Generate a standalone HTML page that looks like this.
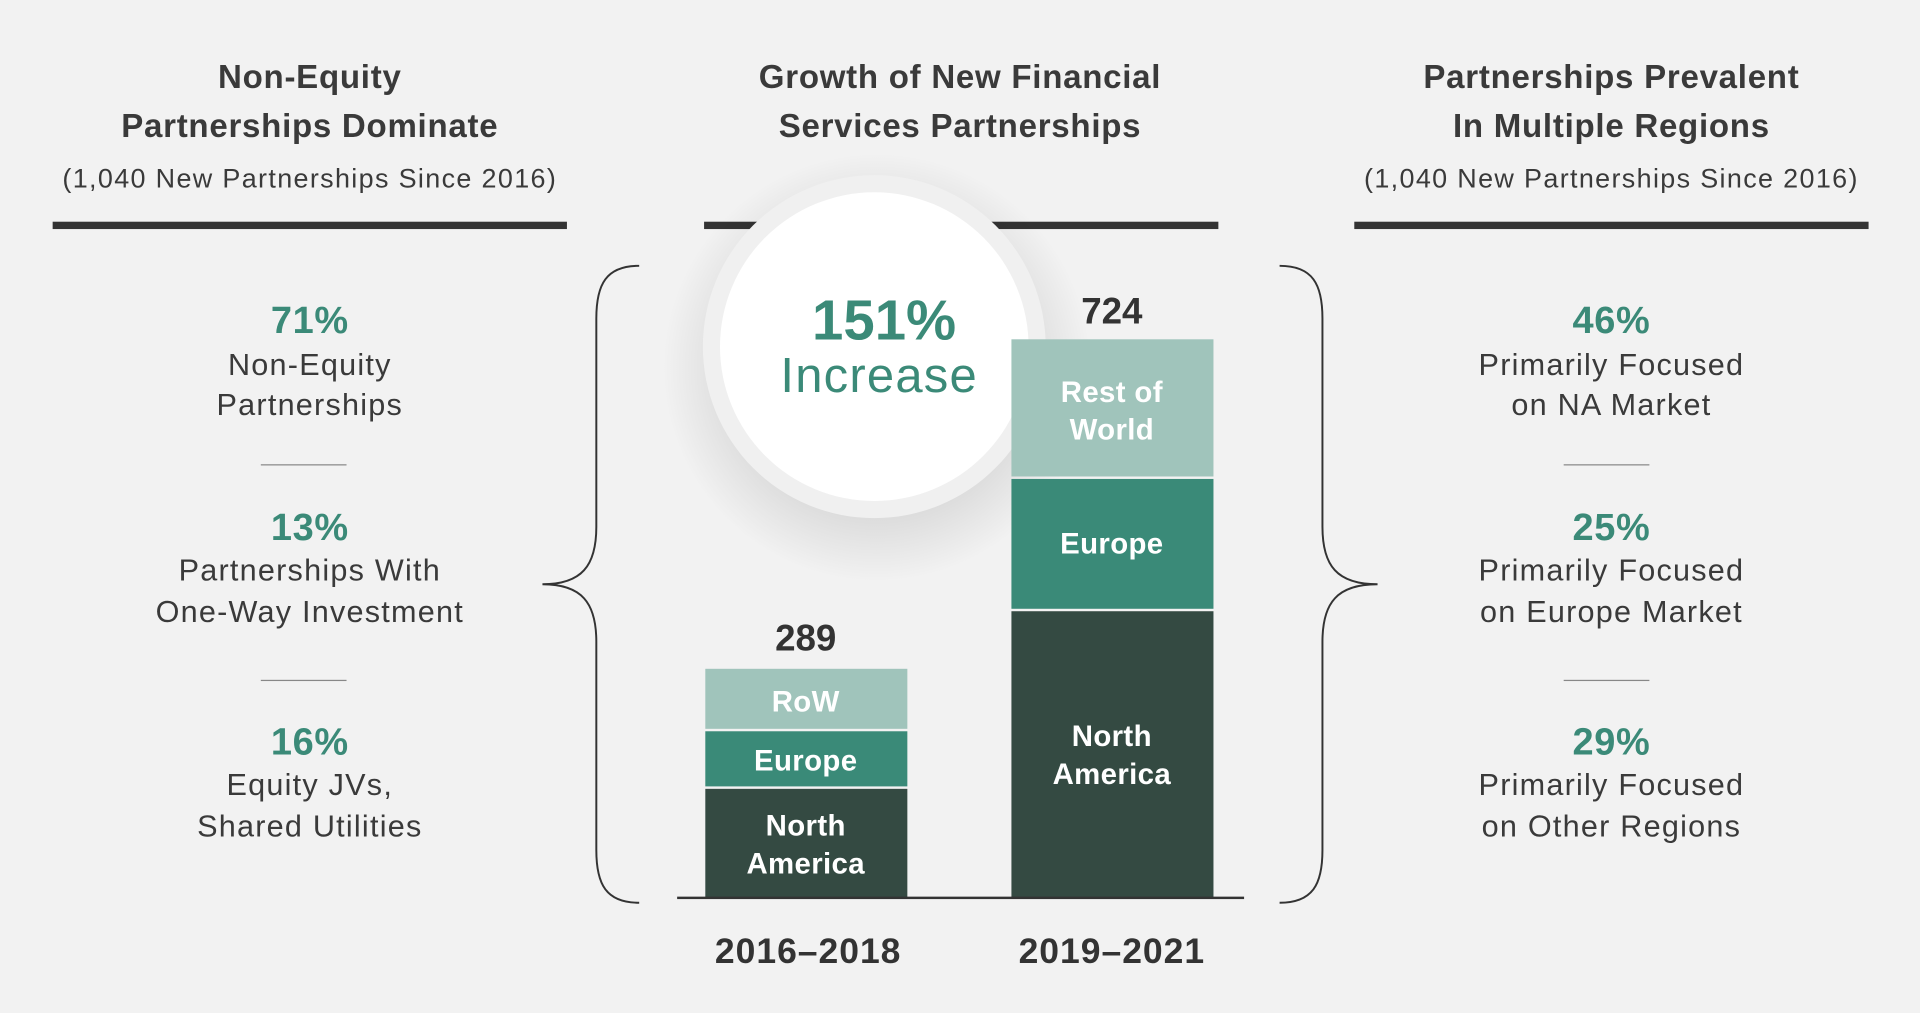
<!DOCTYPE html>
<html><head><meta charset="utf-8"><style>
html,body{margin:0;padding:0;background:#f2f2f2;overflow:hidden}
svg{display:block}
text{font-family:"Liberation Sans",sans-serif;text-anchor:middle}
.t{font-weight:bold;font-size:27px;fill:#3a3a3a;letter-spacing:0.6px}
.s{font-size:22px;fill:#3a3a3a;letter-spacing:1.1px}
.p{font-weight:bold;font-size:31px;fill:#3b8a78;letter-spacing:0.5px}
.d{font-size:25px;fill:#3a3a3a;letter-spacing:1px}
.w{font-weight:bold;font-size:24px;fill:#fff;letter-spacing:0.3px}
</style></head><body>
<svg width="1920" height="1013" viewBox="0 0 1568 827" preserveAspectRatio="none">
<defs>
<radialGradient id="sh" cx="0.5" cy="0.5" r="0.5">
<stop offset="0.6" stop-color="#000" stop-opacity="0.12"/>
<stop offset="1" stop-color="#000" stop-opacity="0"/>
</radialGradient>
</defs>
<rect width="1568" height="827" fill="#f2f2f2"/>
<text class="t" x="253" y="72">Non-Equity</text>
<text class="t" x="253" y="112">Partnerships Dominate</text>
<text class="s" x="253" y="153">(1,040 New Partnerships Since 2016)</text>
<rect x="43" y="181" width="420" height="6" fill="#333"/>
<text class="t" x="784" y="72">Growth of New Financial</text>
<text class="t" x="784" y="112">Services Partnerships</text>
<rect x="575" y="181" width="420" height="6" fill="#333"/>
<text class="t" x="1316" y="72">Partnerships Prevalent</text>
<text class="t" x="1316" y="112">In Multiple Regions</text>
<text class="s" x="1316" y="153">(1,040 New Partnerships Since 2016)</text>
<rect x="1106" y="181" width="420" height="6" fill="#333"/>
<g>
<text class="p" x="253" y="272">71%</text>
<text class="d" x="253" y="306">Non-Equity</text>
<text class="d" x="253" y="339">Partnerships</text>
<rect x="213" y="379" width="70" height="1" fill="#888"/>
<text class="p" x="253" y="441">13%</text>
<text class="d" x="253" y="474">Partnerships With</text>
<text class="d" x="253" y="508">One-Way Investment</text>
<rect x="213" y="555" width="70" height="1" fill="#888"/>
<text class="p" x="253" y="616">16%</text>
<text class="d" x="253" y="649">Equity JVs,</text>
<text class="d" x="253" y="683">Shared Utilities</text>
</g>
<g>
<text class="p" x="1316" y="272">46%</text>
<text class="d" x="1316" y="306">Primarily Focused</text>
<text class="d" x="1316" y="339">on NA Market</text>
<rect x="1277" y="379" width="70" height="1" fill="#888"/>
<text class="p" x="1316" y="441">25%</text>
<text class="d" x="1316" y="474">Primarily Focused</text>
<text class="d" x="1316" y="508">on Europe Market</text>
<rect x="1277" y="555" width="70" height="1" fill="#888"/>
<text class="p" x="1316" y="616">29%</text>
<text class="d" x="1316" y="649">Primarily Focused</text>
<text class="d" x="1316" y="683">on Other Regions</text>
</g>
<path d="M522,217 C495,217 487,232 487,260 L487,430 C487,462 475,477 443,477 C475,477 487,492 487,524 L487,694 C487,722 495,737 522,737" fill="none" stroke="#333" stroke-width="1.6"/>
<path d="M1045,217 C1072,217 1080,232 1080,260 L1080,430 C1080,462 1092,477 1125,477 C1092,477 1080,492 1080,524 L1080,694 C1080,722 1072,737 1045,737" fill="none" stroke="#333" stroke-width="1.6"/>
<circle cx="716" cy="300" r="175" fill="url(#sh)"/>
<circle cx="714" cy="283" r="140" fill="#f0f0f0"/>
<circle cx="714" cy="283" r="126" fill="#fff"/>
<text x="722" y="277" style="font-weight:bold;font-size:46px;fill:#3b8a78">151%</text>
<text x="718" y="320" style="font-size:40px;fill:#3b8a78;letter-spacing:1px">Increase</text>
<rect x="576" y="644" width="165" height="89" fill="#344a42"/>
<rect x="576" y="597" width="165" height="45" fill="#3a8a78"/>
<rect x="576" y="546" width="165" height="49" fill="#a0c4bb"/>
<text class="w" x="658" y="581">RoW</text>
<text class="w" x="658" y="629">Europe</text>
<text class="w" x="658" y="682">North</text>
<text class="w" x="658" y="713">America</text>
<text x="658" y="531" style="font-weight:bold;font-size:30px;fill:#333">289</text>
<rect x="826" y="499" width="165" height="234" fill="#344a42"/>
<rect x="826" y="391" width="165" height="106" fill="#3a8a78"/>
<rect x="826" y="277" width="165" height="112" fill="#a0c4bb"/>
<text class="w" x="908" y="328">Rest of</text>
<text class="w" x="908" y="359">World</text>
<text class="w" x="908" y="452">Europe</text>
<text class="w" x="908" y="609">North</text>
<text class="w" x="908" y="640">America</text>
<text x="908" y="264" style="font-weight:bold;font-size:30px;fill:#333">724</text>
<rect x="553" y="732" width="463" height="2" fill="#333"/>
<text x="660" y="786" style="font-weight:bold;font-size:29px;fill:#333;letter-spacing:0.8px">2016–2018</text>
<text x="908" y="786" style="font-weight:bold;font-size:29px;fill:#333;letter-spacing:0.8px">2019–2021</text>
</svg>
</body></html>
